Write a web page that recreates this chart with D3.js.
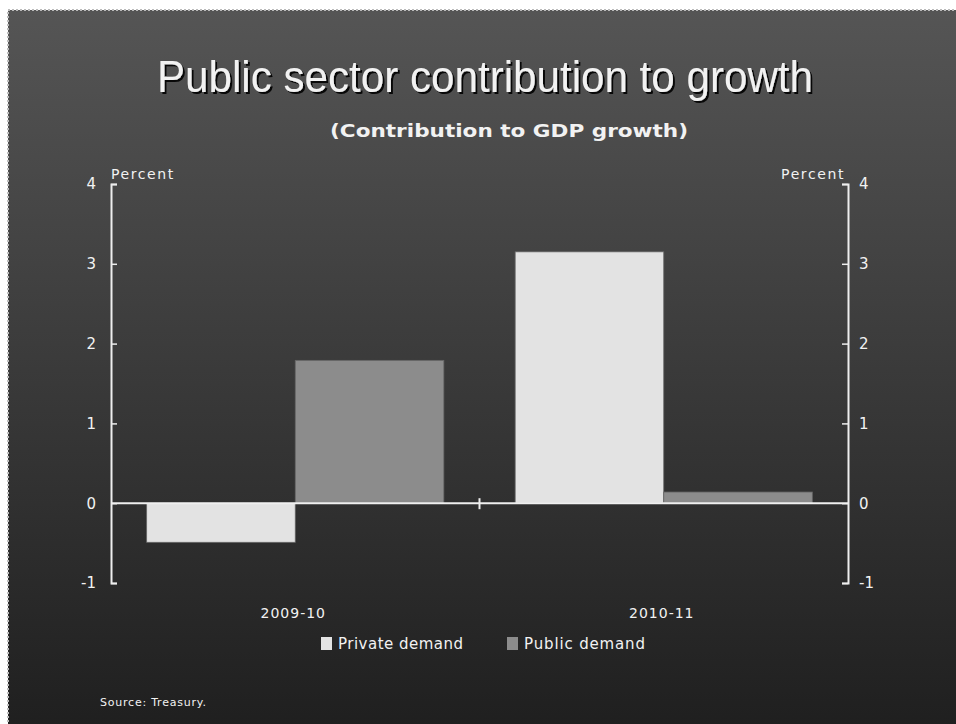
<!DOCTYPE html>
<head>
    <meta charset="utf-8">
    <style>
        body { margin: 0; background: #fff; }
        text { font-family: "DejaVu Sans", sans-serif; fill: #f2f2f2; }
        .title { font-family: "Liberation Sans", Arial, sans-serif; font-size: 45px; }
        .subtitle { font-family: "DejaVu Sans", sans-serif; font-weight: bold; font-size: 17px; }
    </style>
    <script src="https://d3js.org/d3.v7.min.js"></script>
</head>
<body>
    <svg width="956" height="724"></svg>
    <script>
        var categories = ["2009-10", "2010-11"];
        var seriesNames = ["Private demand", "Public demand"];
        var privateDemand = [-0.49, 3.15];
        var publicDemand = [1.79, 0.14];
        var yTicks = [-1, 0, 1, 2, 3, 4];
        var colors = ["#e3e3e3", "#8c8c8c"];

        var svg = d3.select("svg");

        var defs = svg.append("defs");
        var grad = defs.append("linearGradient")
            .attr("id", "bg").attr("x1", 0).attr("y1", 0).attr("x2", 0).attr("y2", 1);
        grad.append("stop").attr("offset", "0%").attr("stop-color", "#555555");
        grad.append("stop").attr("offset", "100%").attr("stop-color", "#1f1f1f");

        var shadow = defs.append("filter").attr("id", "shadow");
        shadow.append("feDropShadow").attr("dx", 2).attr("dy", 2)
            .attr("stdDeviation", 0.5).attr("flood-color", "#000").attr("flood-opacity", 0.9);

        svg.append("rect")
           .attr("x", 8).attr("y", 10).attr("width", 960).attr("height", 720)
           .attr("fill", "url(#bg)")
           .attr("stroke", "#bbb").attr("stroke-width", 2)
           .attr("stroke-dasharray", "2,2");

        var left = 111, right = 848;
        var y = d3.scaleLinear().domain([-1, 4]).range([583, 184]);
        var x0 = d3.scaleBand().domain(categories).range([left, right]).paddingInner(0).paddingOuter(0);
        var x1 = d3.scaleBand().domain(seriesNames).range([0, x0.bandwidth()]).paddingInner(0).paddingOuter(0.24);

        var data = categories.map(function(c, i) {
            return { cat: c, values: [privateDemand[i], publicDemand[i]] };
        });

        var groups = svg.selectAll(".cat").data(data).enter().append("g")
            .attr("class", "cat")
            .attr("transform", function(d) { return "translate(" + x0(d.cat) + ",0)"; });

        groups.selectAll("rect").data(function(d) {
                return d.values.map(function(v, j) { return { name: seriesNames[j], v: v, j: j }; });
            })
            .enter().append("rect")
            .attr("x", function(d) { return x1(d.name); })
            .attr("width", x1.bandwidth())
            .attr("y", function(d) { return y(Math.max(0, d.v)); })
            .attr("height", function(d) { return Math.abs(y(d.v) - y(0)); })
            .attr("fill", function(d) { return colors[d.j]; })
            .attr("stroke", "#666").attr("stroke-width", 0.8);

        // axes
        var fmt = function(d) { return String(d); };
        var leftAxis = svg.append("g").attr("transform", "translate(" + left + ",0)")
            .call(d3.axisRight(y).tickValues(yTicks).tickSize(6).tickFormat(fmt));
        var rightAxis = svg.append("g").attr("transform", "translate(" + right + ",0)")
            .call(d3.axisLeft(y).tickValues(yTicks).tickSize(6).tickFormat(fmt));
        [leftAxis, rightAxis].forEach(function(a) {
            a.select(".domain").attr("stroke", "#eee").attr("stroke-width", 2);
            a.selectAll(".tick line").attr("stroke", "#eee").attr("stroke-width", 1.5);
            a.selectAll(".tick text").attr("fill", "#eee").attr("font-size", 15)
             .attr("font-family", "DejaVu Sans");
        });
        leftAxis.selectAll(".tick text").attr("text-anchor", "end").attr("x", -15);
        rightAxis.selectAll(".tick text").attr("text-anchor", "start").attr("x", 11);

        // zero line
        svg.append("line")
           .attr("x1", left).attr("x2", right)
           .attr("y1", y(0)).attr("y2", y(0))
           .attr("stroke", "#f0f0f0").attr("stroke-width", 2);
        // category divider tick
        svg.append("line")
           .attr("x1", x0(categories[1])).attr("x2", x0(categories[1]))
           .attr("y1", y(0) - 5).attr("y2", y(0) + 6)
           .attr("stroke", "#eee").attr("stroke-width", 2);

        // category labels
        svg.selectAll(".catlabel").data(categories).enter().append("text")
           .attr("x", function(d) { return x0(d) + x0.bandwidth() / 2 - 2; })
           .attr("y", 618)
           .attr("text-anchor", "middle")
           .attr("font-size", 14)
           .attr("letter-spacing", 1)
           .text(function(d) { return d; });

        // unit labels
        svg.append("text").attr("x", 111).attr("y", 179).attr("font-size", 14)
           .attr("letter-spacing", 1.6).text("Percent");
        svg.append("text").attr("x", 845).attr("y", 179).attr("font-size", 14)
           .attr("letter-spacing", 1.6).attr("text-anchor", "end").text("Percent");

        // titles
        svg.append("text").attr("class", "title")
           .attr("x", 157).attr("y", 92)
           .attr("textLength", 656).attr("lengthAdjust", "spacingAndGlyphs")
           .attr("filter", "url(#shadow)")
           .text("Public sector contribution to growth");
        svg.append("text").attr("class", "subtitle")
           .attr("x", 330).attr("y", 137)
           .attr("textLength", 358).attr("lengthAdjust", "spacingAndGlyphs")
           .text("(Contribution to GDP growth)");

        // legend
        var legendX = [321, 507];
        var legendW = [125, 121];
        var legend = svg.selectAll(".legend").data(seriesNames).enter().append("g")
            .attr("transform", function(d, i) { return "translate(" + legendX[i] + ",637)"; });
        legend.append("rect").attr("width", 11).attr("height", 13)
            .attr("fill", function(d, i) { return colors[i]; });
        legend.append("text").attr("x", 17).attr("y", 12).attr("font-size", 15)
            .attr("textLength", function(d, i) { return legendW[i]; })
            .text(function(d) { return d; });

        svg.append("text").attr("x", 100).attr("y", 706).attr("font-size", 11)
           .attr("textLength", 106).text("Source: Treasury.");
    </script>
</body>
</html>
